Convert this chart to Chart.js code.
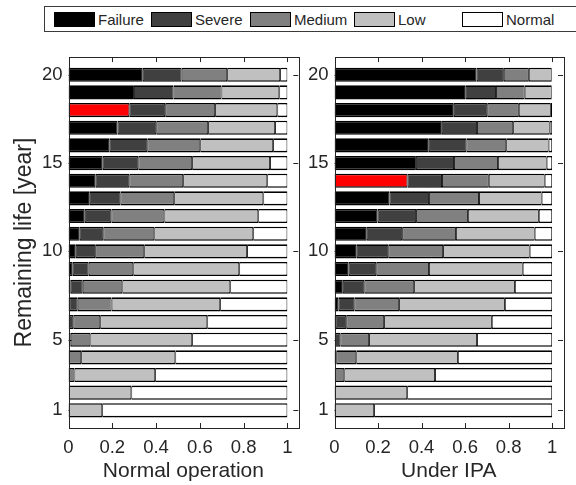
<!DOCTYPE html>
<html lang="en">
<head>
<meta charset="UTF-8"/>
<title>Remaining life by condition class</title>
<style>
  body { margin:0; width:576px; height:485px; overflow:hidden; background:#fff; position:relative;
         font-family:"Liberation Sans", Arial, sans-serif; color:#262626; }
  #legend { position:absolute; left:44px; top:6px; width:560px; height:26px; border:1px solid #3a3a3a; box-sizing:border-box; background:#fff; }
  .item { position:absolute; top:0; height:100%; display:flex; align-items:center; font-size:15px; white-space:nowrap; }
  .sw { width:41px; height:15px; border:1px solid #000; box-sizing:border-box; margin-right:3px; }
  .panel { position:absolute; top:40px; height:445px; }
</style>
</head>
<body>
<div id="legend"></div>
<div class="panel" style="left:0;width:310px;"><canvas id="normalChart"></canvas></div>
<div class="panel" style="left:300px;width:276px;"><canvas id="ipaChart"></canvas></div>

<script src="https://cdn.jsdelivr.net/npm/chart.js@4.4.1/dist/chart.umd.min.js"></script>
<script>
// remaining life (years), bottom to top
var years = [1,2,3,4,5,6,7,8,9,10,11,12,13,14,15,16,17,18,19,20];
var yTicks = [1,5,10,15,20];
var xTicks = [0,0.2,0.4,0.6,0.8,1];

var classes = ['Failure','Severe','Medium','Low','Normal'];
var classColors = ['#000000','#404040','#808080','#c0c0c0','#ffffff'];
var markColor = '#ff0000';

// share of each condition class, normal operation
var normalFail = [0,0,0,0,0.001,0.002,0.004,0.010,0.019,0.033,0.051,0.074,0.097,0.124,0.156,0.188,0.224,0.278,0.299,0.339];
var normalSev  = [0,0,0,0.002,0.009,0.020,0.038,0.055,0.073,0.089,0.108,0.122,0.140,0.154,0.163,0.172,0.177,0.164,0.181,0.178];
var normalMed  = [0,0.001,0.027,0.056,0.090,0.123,0.155,0.181,0.204,0.224,0.233,0.242,0.246,0.246,0.246,0.242,0.237,0.228,0.219,0.208];
var normalLow  = [0.154,0.286,0.369,0.430,0.465,0.489,0.496,0.493,0.484,0.470,0.452,0.429,0.407,0.384,0.356,0.333,0.306,0.284,0.264,0.242];
var normalNorm = [0.846,0.713,0.604,0.512,0.435,0.366,0.307,0.261,0.220,0.184,0.156,0.133,0.110,0.092,0.079,0.065,0.056,0.046,0.037,0.033];
var normalMarked = 18;

// share of each condition class, under IPA
var ipaFail = [0,0,0,0,0.001,0.005,0.019,0.038,0.065,0.102,0.148,0.198,0.253,0.335,0.374,0.433,0.493,0.548,0.603,0.653];
var ipaSev  = [0,0,0.001,0.008,0.026,0.049,0.072,0.099,0.127,0.145,0.163,0.177,0.181,0.159,0.175,0.173,0.162,0.154,0.139,0.125];
var ipaMed  = [0,0.003,0.044,0.092,0.132,0.174,0.206,0.229,0.242,0.252,0.247,0.238,0.230,0.215,0.202,0.183,0.166,0.145,0.132,0.115];
var ipaLow  = [0.182,0.331,0.417,0.467,0.496,0.495,0.486,0.463,0.431,0.398,0.362,0.326,0.288,0.257,0.224,0.195,0.168,0.147,0.124,0.105];
var ipaNorm = [0.818,0.666,0.538,0.433,0.345,0.277,0.217,0.171,0.135,0.103,0.080,0.061,0.048,0.034,0.025,0.016,0.011,0.006,0.002,0.002];
var ipaMarked = 14;

Chart.defaults.font.family = "'Liberation Sans', Arial, sans-serif";
Chart.defaults.color = '#262626';

// legend on top, spans both panels
var legendLeft = [9, 106, 205, 309, 417];
var legend = document.getElementById('legend');
classes.forEach(function(name, k){
  var it = document.createElement('div');
  it.className = 'item';
  it.style.left = legendLeft[k] + 'px';
  it.innerHTML = "<span class='sw' style='background:" + classColors[k] + "'></span>" + name;
  legend.appendChild(it);
});

// matlab style box with inward ticks
var boxPlugin = {
  id: 'box',
  beforeDatasetsDraw: function(chart){
    var a = chart.chartArea, ctx = chart.ctx, sx = chart.scales.x, sy = chart.scales.y;
    ctx.save();
    ctx.strokeStyle = '#262626';
    ctx.lineWidth = 1;
    ctx.beginPath();
    sx.ticks.forEach(function(t){
      var px = Math.round(sx.getPixelForValue(t.value)) + 0.5;
      ctx.moveTo(px, a.top); ctx.lineTo(px, a.top + 5);
      ctx.moveTo(px, a.bottom); ctx.lineTo(px, a.bottom - 5);
    });
    sy.ticks.forEach(function(t){
      var py = Math.round(sy.getPixelForValue(t.value)) + 0.5;
      ctx.moveTo(a.left, py); ctx.lineTo(a.left + 5, py);
      ctx.moveTo(a.right, py); ctx.lineTo(a.right - 5, py);
    });
    ctx.stroke();
    ctx.restore();
  },
  afterDatasetsDraw: function(chart){
    var a = chart.chartArea, ctx = chart.ctx;
    ctx.save();
    ctx.strokeStyle = '#262626';
    ctx.lineWidth = 1;
    ctx.strokeRect(Math.round(a.left) + 0.5, Math.round(a.top) + 0.5,
                   Math.round(a.right - a.left), Math.round(a.bottom - a.top));
    ctx.restore();
  }
};

function makePanel(id, xTitle, series, marked, yWidth, padRight, showYTitle){
  var datasets = series.map(function(vals, k){
    return {
      label: classes[k],
      data: vals,
      backgroundColor: k === 0 ? years.map(function(y){ return y === marked ? markColor : classColors[0]; }) : classColors[k],
      borderColor: '#000',
      borderWidth: { top: 1.6, bottom: 1.6, left: 0.9, right: 0.9 },
      borderSkipped: false,
      barPercentage: 0.8,
      categoryPercentage: 1
    };
  });
  return new Chart(document.getElementById(id), {
    type: 'bar',
    data: { labels: years, datasets: datasets },
    options: {
      indexAxis: 'y',
      responsive: true,
      maintainAspectRatio: false,
      animation: false,
      layout: { padding: { top: 14.7, right: padRight, left: 0, bottom: 0 } },
      plugins: { legend: { display: false }, tooltip: { enabled: false } },
      scales: {
        x: {
          type: 'linear', stacked: true, min: 0, max: 1.05,
          afterBuildTicks: function(s){ s.ticks = xTicks.map(function(v){ return { value: v }; }); },
          afterFit: function(s){ s.height = 57; },
          grid: { display: false, drawTicks: false },
          border: { display: false },
          ticks: { font: { size: 18.5 }, padding: 9, maxRotation: 0, callback: function(v){ return String(v); } },
          title: { display: true, text: xTitle, font: { size: 21 }, padding: { top: 0, bottom: 1.4 } }
        },
        y: {
          type: 'linear', stacked: true, offset: false, min: 0, max: 21,
          afterBuildTicks: function(s){ s.ticks = yTicks.map(function(v){ return { value: v }; }); },
          afterFit: function(s){ s.width = yWidth; },
          grid: { display: false, drawTicks: false, offset: false },
          border: { display: false },
          ticks: { font: { size: 18.5 }, padding: 6, callback: function(v){ return String(v); } },
          title: { display: showYTitle, text: 'Remaining life [year]', font: { size: 23 }, padding: { top: 11, bottom: 0 } }
        }
      }
    },
    plugins: [boxPlugin]
  });
}

makePanel('normalChart', 'Normal operation', [normalFail, normalSev, normalMed, normalLow, normalNorm], normalMarked, 68.5, 11.7, true);
makePanel('ipaChart', 'Under IPA', [ipaFail, ipaSev, ipaMed, ipaLow, ipaNorm], ipaMarked, 34.5, 13, false);
</script>
</body>
</html>
